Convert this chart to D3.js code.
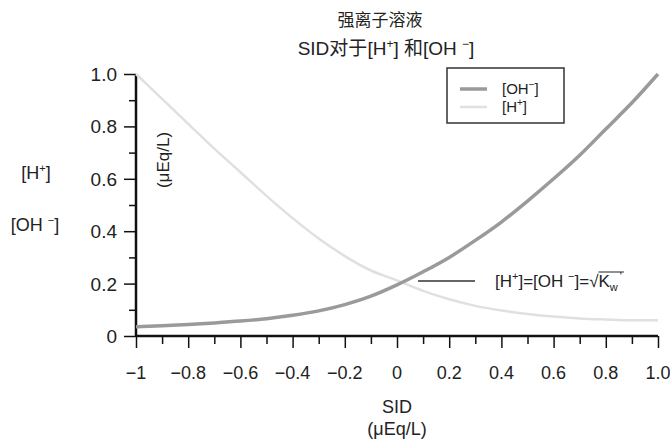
<!DOCTYPE html>
<html>
<head>
<meta charset="utf-8">
<script src="https://cdn.jsdelivr.net/npm/d3@7"></script>
<style>
  body { margin: 0; background: #fff; }
  text { font-family: "Liberation Sans", Arial, sans-serif; fill: #222; }
</style>
</head>
<body>
<div id="chart"></div>
<script>
// SID values (x) and the two concentrations
const sid = [-1, -0.9, -0.8, -0.7, -0.6, -0.5, -0.4, -0.3, -0.2, -0.1, 0,
             0.1, 0.2, 0.3, 0.4, 0.5, 0.6, 0.7, 0.8, 0.9, 1.0];
const oh = [0.035, 0.039, 0.044, 0.05, 0.057, 0.066, 0.079, 0.096, 0.12, 0.152, 0.195,
            0.245, 0.3, 0.365, 0.435, 0.515, 0.6, 0.69, 0.79, 0.89, 1.0];
const hplus = [1.0, 0.905, 0.81, 0.715, 0.625, 0.535, 0.45, 0.372, 0.305, 0.25, 0.212,
               0.172, 0.14, 0.115, 0.097, 0.084, 0.074, 0.067, 0.063, 0.06, 0.06];

const xTicks = [-1, -0.8, -0.6, -0.4, -0.2, 0, 0.2, 0.4, 0.6, 0.8, 1.0];
const xTickLabels = ["\u22121", "\u22120.8", "\u22120.6", "\u22120.4", "\u22120.2", "0", "0.2", "0.4", "0.6", "0.8", "1.0"];
const yTicks = [0, 0.2, 0.4, 0.6, 0.8, 1.0];
const yTickLabels = ["0", "0.2", "0.4", "0.6", "0.8", "1.0"];

const width = 670, height = 439;

const svg = d3.select('#chart').append('svg')
  .attr('width', width)
  .attr('height', height);

const x = d3.scaleLinear().domain([-1, 1]).range([136, 658]);
const y = d3.scaleLinear().domain([0, 1]).range([336, 74]);

// title
svg.append('text')
  .attr('x', 380).attr('y', 26)
  .attr('text-anchor', 'middle')
  .style('font-family', '"Noto Sans CJK SC", sans-serif')
  .style('font-size', '17px')
  .text('强离子溶液');

const t2 = svg.append('text')
  .attr('x', 386).attr('y', 55)
  .attr('text-anchor', 'middle')
  .style('font-size', '19px');
t2.append('tspan').text('SID');
t2.append('tspan').style('font-family', '"Noto Sans CJK SC", sans-serif').text('对于');
t2.append('tspan').text('[H');
t2.append('tspan').attr('dy', -7).style('font-size', '12px').text('+');
t2.append('tspan').attr('dy', 7).text('] ');
t2.append('tspan').style('font-family', '"Noto Sans CJK SC", sans-serif').text('和');
t2.append('tspan').text('[OH ');
t2.append('tspan').attr('dy', -7).style('font-size', '12px').text('\u2212');
t2.append('tspan').attr('dy', 7).text(']');

// axes
const xAxis = d3.axisBottom(x)
  .tickValues(d3.range(-10, 11).map(d => d / 10))
  .tickSize(0)
  .tickFormat('');
const gx = svg.append('g').attr('transform', `translate(0,${y(0)})`).call(xAxis);
gx.select('.domain').remove();
gx.selectAll('.tick line')
  .attr('y2', (d, i) => i % 2 === 0 ? 12 : 8)
  .attr('stroke', '#111').attr('stroke-width', 1.5);

svg.append('line')
  .attr('x1', x(-1)).attr('x2', x(1)).attr('y1', y(0)).attr('y2', y(0))
  .attr('stroke', '#111').attr('stroke-width', 2.5);

svg.selectAll('.xlab').data(xTicks).enter().append('text')
  .attr('class', 'xlab')
  .attr('x', d => x(d))
  .attr('y', y(0) + 43)
  .attr('text-anchor', 'middle')
  .style('font-size', '18px')
  .text((d, i) => xTickLabels[i]);

const yAxis = d3.axisLeft(y)
  .tickValues(d3.range(0, 11).map(d => d / 10))
  .tickSize(0)
  .tickFormat('');
const gy = svg.append('g').attr('transform', `translate(${x(-1)},0)`).call(yAxis);
gy.select('.domain').remove();
gy.selectAll('.tick line')
  .attr('x2', (d, i) => i % 2 === 0 ? -12 : -7)
  .attr('stroke', '#111').attr('stroke-width', 1.5);

svg.append('line')
  .attr('x1', x(-1)).attr('x2', x(-1)).attr('y1', y(1)).attr('y2', y(0))
  .attr('stroke', '#111').attr('stroke-width', 2.5);

svg.selectAll('.ylab').data(yTicks).enter().append('text')
  .attr('class', 'ylab')
  .attr('x', x(-1) - 19)
  .attr('y', d => y(d) + 7)
  .attr('text-anchor', 'end')
  .style('font-size', '19px')
  .text((d, i) => yTickLabels[i]);

// axis titles
const xt = svg.append('text').attr('text-anchor', 'middle').style('font-size', '18px');
xt.append('tspan').attr('x', x(0)).attr('y', 413).text('SID');
xt.append('tspan').attr('x', x(0)).attr('y', 435).text('(\u03bcEq/L)');

const yl1 = svg.append('text').attr('x', 36).attr('y', 179)
  .attr('text-anchor', 'middle').style('font-size', '18px');
yl1.append('tspan').text('[H');
yl1.append('tspan').attr('dy', -7).style('font-size', '11px').text('+');
yl1.append('tspan').attr('dy', 7).text(']');

const yl2 = svg.append('text').attr('x', 35).attr('y', 231)
  .attr('text-anchor', 'middle').style('font-size', '18px');
yl2.append('tspan').text('[OH ');
yl2.append('tspan').attr('dy', -7).style('font-size', '11px').text('\u2212');
yl2.append('tspan').attr('dy', 7).text(']');

svg.append('text')
  .attr('transform', 'translate(169,160) rotate(-90)')
  .attr('text-anchor', 'middle')
  .style('font-size', '17px')
  .text('(\u03bcEq/L)');

// curves
const line = d3.line()
  .x((d, i) => x(sid[i]))
  .y(d => y(d))
  .curve(d3.curveMonotoneX);

svg.append('path').datum(hplus)
  .attr('d', line)
  .attr('fill', 'none')
  .attr('stroke', '#e0e0e0')
  .attr('stroke-width', 2.5);

svg.append('path').datum(oh)
  .attr('d', line)
  .attr('fill', 'none')
  .attr('stroke', '#9a9a9a')
  .attr('stroke-width', 3.5);

// annotation at the crossing
svg.append('line')
  .attr('x1', 418).attr('x2', 475).attr('y1', 281).attr('y2', 281)
  .attr('stroke', '#666').attr('stroke-width', 2);

const ann = svg.append('text').attr('x', 495).attr('y', 287).style('font-size', '17px');
ann.append('tspan').text('[H');
ann.append('tspan').attr('dy', -7).style('font-size', '11px').text('+');
ann.append('tspan').attr('dy', 7).text(']=[OH ');
ann.append('tspan').attr('dy', -7).style('font-size', '11px').text('\u2212');
ann.append('tspan').attr('dy', 7).text(']=\u221a');
ann.append('tspan').text('K');
ann.append('tspan').attr('dy', 4).style('font-size', '11px').text('w');
ann.append('tspan').attr('dx', 2).attr('dy', -11).style('font-size', '11px').text('\'');

// overline on K_w'
const node = ann.node();
const txt = node.textContent;
const kStart = node.getStartPositionOfChar(txt.indexOf('K'));
const end = node.getEndPositionOfChar(txt.length - 1);
svg.append('line')
  .attr('x1', kStart.x).attr('x2', end.x + 2)
  .attr('y1', 272).attr('y2', 272)
  .attr('stroke', '#222').attr('stroke-width', 1);

// legend
svg.append('rect')
  .attr('x', 447).attr('y', 68).attr('width', 117).attr('height', 55)
  .attr('fill', '#fff').attr('stroke', '#333').attr('stroke-width', 1.5);

const legend = [
  {name: 'OH', sup: '\u2212', color: '#9a9a9a', w: 3.5, yy: 89},
  {name: 'H', sup: '+', color: '#e0e0e0', w: 2.5, yy: 107}
];
legend.forEach(l => {
  svg.append('line')
    .attr('x1', 460).attr('x2', 487).attr('y1', l.yy).attr('y2', l.yy)
    .attr('stroke', l.color).attr('stroke-width', l.w);
  const t = svg.append('text').attr('x', 502).attr('y', l.yy + 5).style('font-size', '15px');
  t.append('tspan').text('[' + l.name);
  t.append('tspan').attr('dy', -6).style('font-size', '10px').text(l.sup);
  t.append('tspan').attr('dy', 6).text(']');
});
</script>
</body>
</html>
